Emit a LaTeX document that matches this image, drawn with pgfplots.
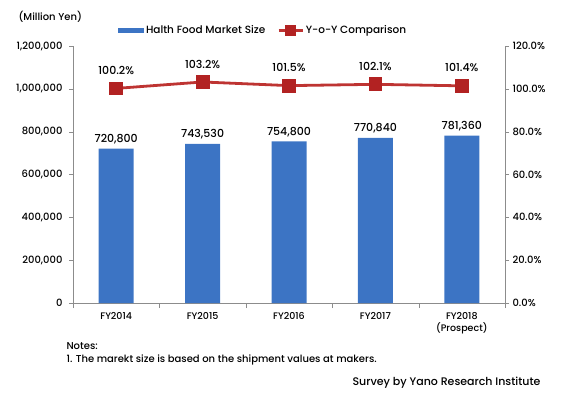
\documentclass[border=0pt]{standalone}
\usepackage{fontspec}
\setmainfont{Poppins}[UprightFont={* Medium}, BoldFont={* SemiBold}]
\usepackage{pgfplots}
\pgfplotsset{compat=1.18}
\definecolor{barblue}{RGB}{60,116,196}
\definecolor{linered}{RGB}{190,52,50}
\definecolor{markred}{RGB}{178,34,34}
\definecolor{axgray}{RGB}{140,140,140}
\begin{document}
\begin{tikzpicture}
\fontsize{10}{12}\selectfont
\path[use as bounding box] (0pt,0pt) rectangle (565pt,397pt);
\begin{axis}[
  at={(73pt,94pt)}, anchor=south west,
  scale only axis, width=432pt, height=257pt,
  xmin=-0.5, xmax=4.5, ymin=0, ymax=1200000,
  axis y line*=left, axis x line*=bottom,
  axis line style={axgray, -},
  tick align=outside,
  xtick={0,1,2,3,4},
  xticklabels={FY2014,FY2015,FY2016,FY2017,{FY2018\\(Prospect)}},
  xticklabel style={align=center, font=\fontsize{9.5}{12}\selectfont, yshift=-2pt},
  major x tick style={draw=none},
  minor xtick={-0.5,0.5,1.5,2.5,3.5,4.5},
  minor x tick style={axgray},
  minor tick length=5pt,
  ytick={0,200000,...,1200000},
  scaled y ticks=false,
  y tick style={axgray}, major tick length=4pt,
  yticklabel style={font=\fontsize{10}{12}\selectfont, xshift=-3pt},
  /pgf/number format/.cd, fixed, 1000 sep={,}, assume math mode=true,
  /pgfplots/.cd,
  legend style={at={(0.44,1.025)}, anchor=south, draw=none, fill=none,
    legend columns=2, font=\fontsize{10.5}{12}\selectfont,
    /tikz/every even column/.append style={column sep=10pt}},
  legend cell align=left,
]
\addplot[ybar, bar width=35pt, fill=barblue, draw=none,
  nodes near coords,
  nodes near coords style={font=\fontsize{11}{13}\selectfont, yshift=1pt},
  area legend,
  legend image code/.code={\fill[barblue] (0pt,-2.5pt) rectangle (26pt,2.5pt);}]
  coordinates {(0,720800) (1,743530) (2,754800) (3,770840) (4,781360)};
\addlegendentry{Halth Food Market Size}
\addlegendimage{linered, line width=2.5pt, mark=square*, mark size=4pt, mark options={fill=markred, draw=markred},
  legend image code/.code={\draw[linered, line width=2.5pt] (0pt,0pt) -- (24pt,0pt); \fill[markred] (8pt,-4pt) rectangle (16pt,4pt);}}
\addlegendentry{Y-o-Y Comparison}
\end{axis}
\begin{axis}[
  at={(73pt,94pt)}, anchor=south west,
  scale only axis, width=432pt, height=257pt,
  xmin=-0.5, xmax=4.5, ymin=0, ymax=120,
  axis y line*=right, axis x line=none,
  axis line style={axgray, -},
  tick align=outside,
  ytick={0,20,...,120},
  y tick style={axgray}, major tick length=4pt,
  yticklabel={\pgfmathprintnumber[fixed,fixed zerofill,precision=1,assume math mode=true]{\tick}\%},
  yticklabel style={font=\fontsize{10}{12}\selectfont},
]
\addplot[linered, line width=2.8pt, mark=square*, mark size=5.5pt,
  mark options={fill=markred, draw=markred},
  nodes near coords={\pgfmathprintnumber[fixed,fixed zerofill,precision=1,assume math mode=true]{\pgfplotspointmeta}\%},
  nodes near coords style={font=\fontsize{11}{13}\selectfont, black, anchor=south, yshift=9pt}]
  coordinates {(0,100.2) (1,103.2) (2,101.5) (3,102.1) (4,101.4)};
\end{axis}
\node[anchor=west, font=\fontsize{10}{12}\selectfont] at (15pt,380pt) {(Million Yen)};
\node[anchor=west, font=\fontsize{10}{12}\selectfont] at (63pt,51pt) {Notes:};
\node[anchor=west, font=\fontsize{10}{12}\selectfont] at (63pt,37pt) {1. The marekt size is based on the shipment values at makers.};
\node[anchor=east, font=\fontsize{11}{13}\selectfont] at (544pt,14pt) {Survey by Yano Research Institute};
\end{tikzpicture}
\end{document}
